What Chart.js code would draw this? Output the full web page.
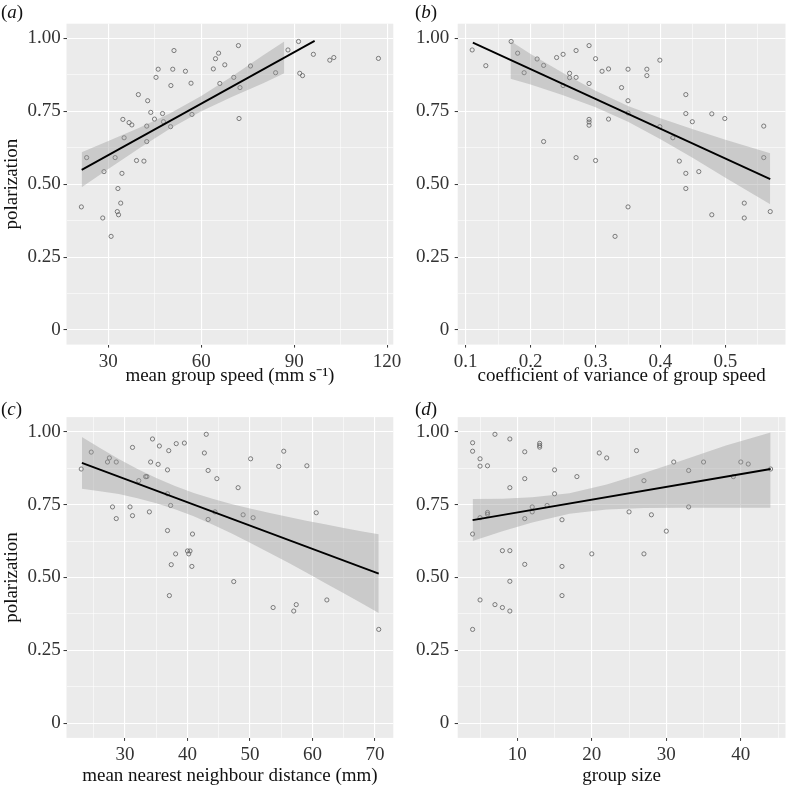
<!DOCTYPE html>
<html>
<head>
<meta charset="utf-8">
<script src="https://cdn.jsdelivr.net/npm/chart.js@4.4.1/dist/chart.umd.min.js"></script>
<style>
  body { margin: 0; background: #fff; width: 786px; height: 787px; position: relative; overflow: hidden;
         font-family: "Liberation Serif", "Times New Roman", serif; }
  .caixa { position: absolute; }
  .rotulo { position: absolute; font-size: 19px; line-height: 1; color: #111; }
</style>
</head>
<body>

<div class="caixa" style="left:0;top:0;width:405px;height:393px"><canvas id="gA" width="405" height="393"></canvas></div>
<div class="caixa" style="left:405px;top:0;width:381px;height:393px"><canvas id="gB" width="381" height="393"></canvas></div>
<div class="caixa" style="left:0;top:393px;width:405px;height:394px"><canvas id="gC" width="405" height="394"></canvas></div>
<div class="caixa" style="left:405px;top:393px;width:381px;height:394px"><canvas id="gD" width="381" height="394"></canvas></div>

<div class="rotulo" style="left:1px;top:2px">(<i>a</i>)</div>
<div class="rotulo" style="left:415px;top:2px">(<i>b</i>)</div>
<div class="rotulo" style="left:1px;top:399px">(<i>c</i>)</div>
<div class="rotulo" style="left:415px;top:399px">(<i>d</i>)</div>

<script>
// eixo y comum (polarização)
const polTicks = [0, 0.25, 0.5, 0.75, 1];
const polTickLabels = ["0", "0.25", "0.50", "0.75", "1.00"];
const polMinor = [0.125, 0.375, 0.625, 0.875];

// (a) velocidade média do grupo
const speedTicks = [30, 60, 90, 120];
const speedMinor = [45, 75, 105];
const speedX = [23.0, 28.6, 32.2, 34.4, 33.1, 34.7, 35.1, 36.7, 37.6, 39.1, 39.7, 41.5, 42.4, 42.4, 42.7, 43.7, 44.9, 45.4, 46.1, 47.5,
  47.8, 50.1, 50.2, 50.8, 51.2, 54.9, 56.7, 57.0, 63.9, 64.6, 65.6, 66.0, 67.6, 70.5, 72.0, 72.2, 72.5, 75.9, 84.0, 88.0,
  91.4, 91.8, 92.7, 96.2, 101.5, 102.8, 117.2, 21.3, 28.2, 30.9, 34.0, 32.9, 33.3];
const speedPol = [0.591, 0.543, 0.591, 0.537, 0.485, 0.722, 0.659, 0.711, 0.703, 0.581, 0.807, 0.579, 0.699, 0.646, 0.786, 0.746, 0.723, 0.866, 0.894, 0.742,
  0.714, 0.697, 0.838, 0.894, 0.958, 0.887, 0.846, 0.739, 0.895, 0.930, 0.949, 0.845, 0.909, 0.866, 0.975, 0.725, 0.831, 0.905, 0.882, 0.960,
  0.989, 0.880, 0.872, 0.945, 0.925, 0.934, 0.931, 0.422, 0.384, 0.321, 0.435, 0.406, 0.395];
const speedFitX = [21.4, 96.6];
const speedFitY = [0.549, 0.991];
const speedBandX = [21.4, 30, 40, 50, 60, 70, 80, 86.8];
const speedBandLo = [0.489, 0.552, 0.623, 0.691, 0.750, 0.800, 0.846, 0.880];
const speedBandHi = [0.609, 0.648, 0.693, 0.743, 0.802, 0.870, 0.942, 0.989];

// (b) coeficiente de variação da velocidade
const cvTicks = [0.1, 0.2, 0.3, 0.4, 0.5];
const cvMinor = [0.15, 0.25, 0.35, 0.45, 0.55];
const cvX = [0.110, 0.131, 0.170, 0.180, 0.190, 0.210, 0.220, 0.220, 0.240, 0.250, 0.250, 0.260, 0.260, 0.270, 0.270, 0.270, 0.290, 0.290, 0.290, 0.290,
  0.290, 0.300, 0.300, 0.310, 0.320, 0.320, 0.340, 0.350, 0.350, 0.350, 0.379, 0.379, 0.399, 0.399, 0.419, 0.429, 0.439, 0.439, 0.439, 0.439,
  0.449, 0.459, 0.479, 0.499, 0.559, 0.559, 0.350, 0.330, 0.479, 0.529, 0.529, 0.569];
const cvPol = [0.960, 0.906, 0.989, 0.949, 0.882, 0.929, 0.907, 0.646, 0.934, 0.945, 0.838, 0.880, 0.865, 0.958, 0.866, 0.591, 0.975, 0.845, 0.722, 0.713,
  0.702, 0.930, 0.581, 0.887, 0.895, 0.723, 0.831, 0.894, 0.786, 0.744, 0.894, 0.872, 0.925, 0.697, 0.659, 0.579, 0.807, 0.742, 0.537, 0.485,
  0.714, 0.543, 0.741, 0.725, 0.699, 0.591, 0.422, 0.321, 0.395, 0.435, 0.384, 0.406];
const cvFitX = [0.111, 0.569];
const cvFitY = [0.985, 0.517];
const cvBandX = [0.169, 0.2, 0.25, 0.3, 0.35, 0.4, 0.45, 0.5, 0.569];
const cvBandLo = [0.861, 0.842, 0.805, 0.764, 0.714, 0.654, 0.590, 0.522, 0.431];
const cvBandHi = [0.991, 0.946, 0.881, 0.820, 0.768, 0.726, 0.688, 0.652, 0.606];

// (c) distância média ao vizinho mais próximo
const nndTicks = [30, 40, 50, 60, 70];
const nndMinor = [25, 35, 45, 55, 65];
const nndX = [23.0, 24.6, 27.2, 27.5, 28.6, 28.0, 28.6, 31.2, 30.8, 31.2, 32.2, 33.3, 33.5, 33.9, 34.1, 34.4, 35.3, 35.5, 36.8, 36.8,
  36.8, 37.0, 37.3, 37.4, 38.1, 38.2, 39.5, 40.0, 40.2, 40.4, 40.7, 40.8, 42.7, 43.0, 43.3, 43.3, 44.4, 44.7, 47.4, 48.1,
  48.9, 50.1, 50.5, 54.6, 55.4, 59.1, 60.6, 37.1, 53.7, 57.0, 57.4, 62.3, 70.6];
const nndPol = [0.872, 0.930, 0.896, 0.910, 0.896, 0.742, 0.702, 0.946, 0.742, 0.712, 0.832, 0.846, 0.846, 0.725, 0.896, 0.975, 0.888, 0.951, 0.869, 0.787,
  0.661, 0.935, 0.747, 0.544, 0.581, 0.959, 0.961, 0.591, 0.581, 0.591, 0.538, 0.649, 0.927, 0.991, 0.867, 0.699, 0.725, 0.839, 0.486, 0.808,
  0.715, 0.907, 0.705, 0.881, 0.933, 0.883, 0.722, 0.438, 0.397, 0.385, 0.407, 0.423, 0.322];
const nndFitX = [23.1, 70.6];
const nndFitY = [0.893, 0.513];
const nndBandX = [23.1, 26, 29, 32, 35, 38, 41, 44, 47, 50, 53, 56, 59, 62, 65, 68, 70.6];
const nndBandLo = [0.804, 0.796, 0.786, 0.772, 0.755, 0.734, 0.710, 0.682, 0.652, 0.619, 0.586, 0.552, 0.517, 0.481, 0.446, 0.410, 0.378];
const nndBandHi = [0.982, 0.944, 0.906, 0.872, 0.841, 0.814, 0.790, 0.770, 0.752, 0.737, 0.722, 0.708, 0.695, 0.683, 0.670, 0.658, 0.648];

// (d) tamanho do grupo
const sizeTicks = [10, 20, 30, 40];
const sizeMinor = [5, 15, 25, 35, 45];
const sizeX = [4, 4, 4, 5, 5, 5, 6, 6, 6, 7, 8, 9, 9, 9, 9, 11, 11, 11, 11, 12,
  12, 13, 13, 13, 14, 15, 15, 16, 16, 18, 20, 21, 22, 25, 26, 27, 27, 28, 30, 31,
  33, 33, 35, 40, 41, 44, 39, 4, 5, 7, 8, 9, 16];
const sizePol = [0.962, 0.933, 0.649, 0.907, 0.882, 0.705, 0.883, 0.723, 0.717, 0.991, 0.592, 0.975, 0.808, 0.592, 0.487, 0.931, 0.839, 0.702, 0.545, 0.742,
  0.725, 0.960, 0.953, 0.947, 0.747, 0.869, 0.787, 0.698, 0.538, 0.846, 0.581, 0.927, 0.910, 0.725, 0.935, 0.832, 0.581, 0.715, 0.659, 0.896,
  0.867, 0.742, 0.896, 0.896, 0.889, 0.872, 0.846, 0.322, 0.423, 0.407, 0.397, 0.385, 0.438];
const sizeFitX = [4, 44];
const sizeFitY = [0.697, 0.872];
const sizeBandX = [4, 8, 12, 17, 22, 27, 32, 38, 44];
const sizeBandLo = [0.625, 0.659, 0.689, 0.719, 0.733, 0.738, 0.739, 0.739, 0.739];
const sizeBandHi = [0.769, 0.770, 0.775, 0.789, 0.819, 0.858, 0.900, 0.953, 0.997];

const FONTE = '"Liberation Serif", "Times New Roman", serif';

// fundo cinza do painel (estilo ggplot)
const fundoPainel = {
  id: 'fundoPainel',
  beforeDraw(chart) {
    const a = chart.chartArea;
    const ctx = chart.ctx;
    ctx.save();
    ctx.fillStyle = '#ebebeb';
    ctx.fillRect(a.left, a.top, a.right - a.left, a.bottom - a.top);
    ctx.restore();
  }
};

function pares(xs, ys) {
  return xs.map((x, i) => ({ x: x, y: ys[i] }));
}

function eixo(maiores, menores, rotulos, min, max) {
  return {
    type: 'linear',
    min: min,
    max: max,
    afterBuildTicks: s => {
      s.ticks = maiores.concat(menores).sort((p, q) => p - q).map(v => ({ value: v }));
    },
    ticks: {
      autoSkip: false,
      maxRotation: 0,
      color: '#333',
      font: { family: FONTE, size: 19 },
      callback: v => {
        const i = maiores.indexOf(v);
        return i >= 0 ? rotulos[i] : '';
      }
    },
    grid: {
      color: '#ffffff',
      lineWidth: c => maiores.includes(c.tick.value) ? 1.1 : 0.55,
      tickColor: c => maiores.includes(c.tick.value) ? '#333' : 'rgba(0,0,0,0)',
      tickLength: 3,
      tickWidth: 1
    },
    border: { display: false }
  };
}

function painel(id, p) {
  const x = eixo(p.xTicks, p.xMinor, p.xTicks.map(String), p.xMin, p.xMax);
  x.afterFit = s => { s.height = p.xH; };
  x.ticks.padding = 2.7;
  x.title = {
    display: true, text: p.xTitle, color: '#111',
    font: { family: FONTE, size: 19 },
    padding: { top: 0, bottom: p.titlePad }
  };

  const y = eixo(polTicks, polMinor, polTickLabels, -0.05, 1.05);
  y.afterFit = s => { s.width = p.yW; };
  y.ticks.padding = p.yPad;
  y.title = {
    display: p.yTitle, text: 'polarization', color: '#111',
    font: { family: FONTE, size: 19 },
    padding: { top: 1, bottom: 0 }
  };

  new Chart(document.getElementById(id), {
    type: 'scatter',
    data: {
      datasets: [
        {
          data: pares(p.px, p.py),
          pointStyle: 'circle',
          pointRadius: 2.1,
          pointBorderWidth: 0.8,
          pointBorderColor: '#5f5f5f',
          pointBackgroundColor: 'rgba(0,0,0,0)',
          order: 2
        },
        {
          type: 'line',
          data: pares(p.bandX, p.bandLo),
          borderColor: 'rgba(0,0,0,0)',
          pointRadius: 0,
          fill: false,
          order: 1
        },
        {
          type: 'line',
          data: pares(p.bandX, p.bandHi),
          borderColor: 'rgba(0,0,0,0)',
          backgroundColor: 'rgba(153,153,153,0.4)',
          pointRadius: 0,
          fill: '-1',
          order: 1
        },
        {
          type: 'line',
          data: pares(p.fitX, p.fitY),
          borderColor: '#000',
          borderWidth: 1.8,
          pointRadius: 0,
          fill: false,
          order: 0
        }
      ]
    },
    options: {
      responsive: false,
      animation: false,
      events: [],
      layout: {
        autoPadding: false,
        padding: { left: 0, top: p.top, right: p.right, bottom: 0 }
      },
      plugins: {
        legend: { display: false },
        tooltip: { enabled: false }
      },
      scales: { x: x, y: y }
    },
    plugins: [fundoPainel]
  });
}

painel('gA', {
  px: speedX, py: speedPol, fitX: speedFitX, fitY: speedFitY,
  bandX: speedBandX, bandLo: speedBandLo, bandHi: speedBandHi,
  xTicks: speedTicks, xMinor: speedMinor, xMin: 16.5, xMax: 122,
  xTitle: 'mean group speed (mm s\u207B\u00B9)', yTitle: true,
  top: 23.7, right: 11.7, yW: 66.5, xH: 48.4, yPad: 2.8, titlePad: 5.7
});

painel('gB', {
  px: cvX, py: cvPol, fitX: cvFitX, fitY: cvFitY,
  bandX: cvBandX, bandLo: cvBandLo, bandHi: cvBandHi,
  xTicks: cvTicks, xMinor: cvMinor, xMin: 0.0877, xMax: 0.5925,
  xTitle: 'coefficient of variance of group speed', yTitle: false,
  top: 23.7, right: 0.5, yW: 52.7, xH: 48.4, yPad: 5.4, titlePad: 5.7
});

painel('gC', {
  px: nndX, py: nndPol, fitX: nndFitX, fitY: nndFitY,
  bandX: nndBandX, bandLo: nndBandLo, bandHi: nndBandHi,
  xTicks: nndTicks, xMinor: nndMinor, xMin: 20.64, xMax: 72.93,
  xTitle: 'mean nearest neighbour distance (mm)', yTitle: true,
  top: 24.1, right: 11.7, yW: 66.5, xH: 49.1, yPad: 2.8, titlePad: -0.5
});

painel('gD', {
  px: sizeX, py: sizePol, fitX: sizeFitX, fitY: sizeFitY,
  bandX: sizeBandX, bandLo: sizeBandLo, bandHi: sizeBandHi,
  xTicks: sizeTicks, xMinor: sizeMinor, xMin: 2, xMax: 46,
  xTitle: 'group size', yTitle: false,
  top: 24.1, right: 0.5, yW: 52.7, xH: 49.1, yPad: 5.4, titlePad: -0.5
});
</script>
</body>
</html>
